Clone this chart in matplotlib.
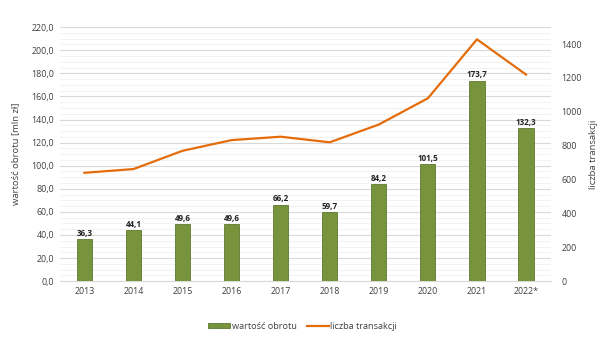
import numpy as np
import matplotlib
matplotlib.use('Agg')
import matplotlib.pyplot as plt
from matplotlib.ticker import MultipleLocator, FuncFormatter

plt.rcParams['font.family'] = ['Open Sans', 'DejaVu Sans']

years = ['2013', '2014', '2015', '2016', '2017', '2018', '2019', '2020', '2021', '2022*']
turnover = [36.3, 44.1, 49.6, 49.6, 66.2, 59.7, 84.2, 101.5, 173.7, 132.3]
transactions = [640, 662, 770, 833, 853, 820, 925, 1080, 1428, 1220]

bar_color = '#77933C'
line_color = '#E46C0A'
text_color = '#404040'

fig = plt.figure(figsize=(6.05, 3.48), dpi=100)
ax = fig.add_axes([0.099, 0.192, 0.811, 0.73])
x = np.arange(len(years))

ax.bar(x, turnover, width=0.31, color=bar_color, edgecolor='#5f7a2c', linewidth=0.6,
       zorder=3, label='wartość obrotu')
for xi, v in zip(x, turnover):
    ax.text(xi, v + 1.2, f'{v:.1f}'.replace('.', ','), ha='center', va='bottom',
            fontsize=5.8, fontweight='bold', color='#222222', zorder=5)

ax.set_xlim(-0.5, len(years) - 0.5)
ax.set_ylim(0, 220)
ax.yaxis.set_major_locator(MultipleLocator(20))
ax.yaxis.set_minor_locator(MultipleLocator(5))
ax.yaxis.set_major_formatter(FuncFormatter(lambda v, p: f'{v:.1f}'.replace('.', ',')))
ax.set_xticks(x)
ax.set_xticklabels(years)
ax.grid(axis='y', which='major', color='#d9d9d9', linewidth=0.8, zorder=0)
ax.grid(axis='y', which='minor', color='#f0f0f0', linewidth=0.6, zorder=0)
for s in ax.spines.values():
    s.set_visible(False)
ax.spines['bottom'].set_visible(True)
ax.spines['bottom'].set_color('#d9d9d9')
ax.tick_params(axis='both', which='both', length=0, labelsize=6.4, colors=text_color, pad=4)
ax.set_ylabel('wartość obrotu [mln zł]', fontsize=6.8, color=text_color, labelpad=8)

ax2 = ax.twinx()
ax2.plot(x, transactions, color=line_color, linewidth=1.6, zorder=4, label='liczba transakcji')
ax2.set_ylim(0, 1500)
ax2.set_yticks(np.arange(0, 1401, 200))
for s in ax2.spines.values():
    s.set_visible(False)
ax2.tick_params(axis='y', length=0, labelsize=6.4, colors=text_color, pad=8)
ax2.set_ylabel('liczba transakcji', fontsize=6.8, color=text_color, labelpad=5)

h1, l1 = ax.get_legend_handles_labels()
h2, l2 = ax2.get_legend_handles_labels()
fig.legend(h1 + h2, l1 + l2, loc='center', bbox_to_anchor=(0.5, 0.063), ncol=2,
           frameon=False, fontsize=6.6, handlelength=2.4, handleheight=0.55,
           columnspacing=1.1, handletextpad=0.2, labelcolor=text_color)

fig.savefig('out.png', dpi=100, facecolor='white')
